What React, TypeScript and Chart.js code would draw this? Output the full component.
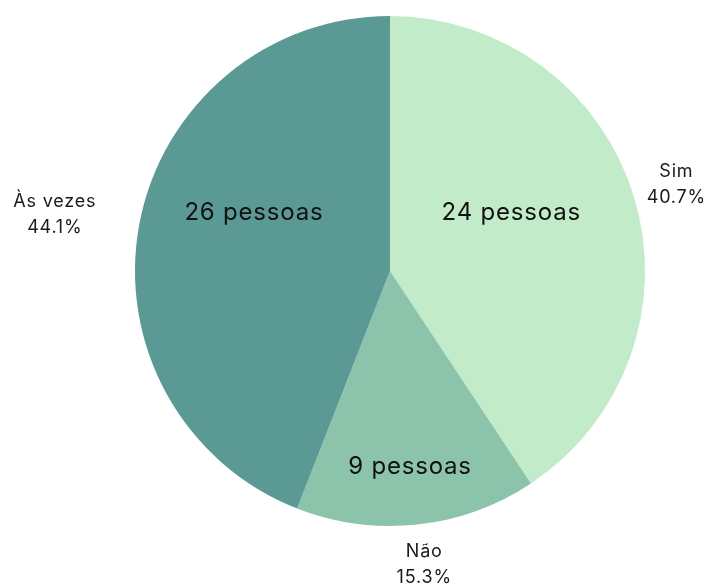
import React, { useEffect, useRef } from "react";
import { Chart, registerables } from "chart.js";

Chart.register(...registerables);

const categories = ["Sim", "Não", "Às vezes"];
const counts = [24, 9, 26];
const percentLabels = ["40.7%", "15.3%", "44.1%"];
const colors = ["#c2ecc9", "#8cc4ab", "#5b9a94"];

// label placement (fraction of slice angle, fraction of radius)
const insideAngleFrac = [0.44, 0.505, 0.578];
const insideRadiusFrac = [0.527, 0.773, 0.58];
const outsideAngleFrac = [0.5, 0.49, 0.493];
const outsideRadiusFrac = [1.173, 1.159, 1.333];

const FONT = "Inter, 'Open Sans', sans-serif";

const labelPlugin = {
  id: "pieLabels",
  afterDatasetsDraw(chart: any) {
    const ctx = chart.ctx;
    const meta = chart.getDatasetMeta(0);
    ctx.save();
    ctx.textAlign = "center";
    ctx.textBaseline = "middle";
    meta.data.forEach((arc: any, i: number) => {
      const { x, y, startAngle, endAngle, outerRadius } = arc.getProps(
        ["x", "y", "startAngle", "endAngle", "outerRadius"],
        true
      );
      // inside label
      const a1 = startAngle + insideAngleFrac[i] * (endAngle - startAngle);
      const r1 = outerRadius * insideRadiusFrac[i];
      ctx.fillStyle = "#111111";
      ctx.font = `400 24px ${FONT}`;
      (ctx as any).letterSpacing = "0.8px";
      ctx.fillText(`${counts[i]} pessoas`, x + Math.cos(a1) * r1, y + Math.sin(a1) * r1);
      // outside label
      const a2 = startAngle + outsideAngleFrac[i] * (endAngle - startAngle);
      const r2 = outerRadius * outsideRadiusFrac[i];
      const cx = x + Math.cos(a2) * r2;
      const cy = y + Math.sin(a2) * r2;
      ctx.font = `400 18px ${FONT}`;
      (ctx as any).letterSpacing = "0.8px";
      ctx.fillStyle = "#1a1a1a";
      ctx.fillText(categories[i], cx, cy - 13);
      ctx.fillText(percentLabels[i], cx, cy + 13);
    });
    ctx.restore();
  },
};

export default function App() {
  const ref = useRef<HTMLCanvasElement>(null);
  useEffect(() => {
    if (!ref.current) return;
    const chart = new Chart(ref.current, {
      type: "pie",
      data: {
        labels: categories,
        datasets: [
          {
            data: counts,
            backgroundColor: colors,
            borderWidth: 0,
          },
        ],
      },
      options: {
        animation: false,
        responsive: false,
        layout: { padding: { left: 135, right: 61, top: 16, bottom: 62 } },
        plugins: {
          legend: { display: false },
          tooltip: { enabled: false },
        },
      },
      plugins: [labelPlugin],
    });
    return () => chart.destroy();
  }, []);
  return (
    <div style={{ position: "absolute", left: 0, top: 0, width: 706, height: 588, background: "#fff" }}>
      <canvas ref={ref} width={706} height={588} />
    </div>
  );
}
